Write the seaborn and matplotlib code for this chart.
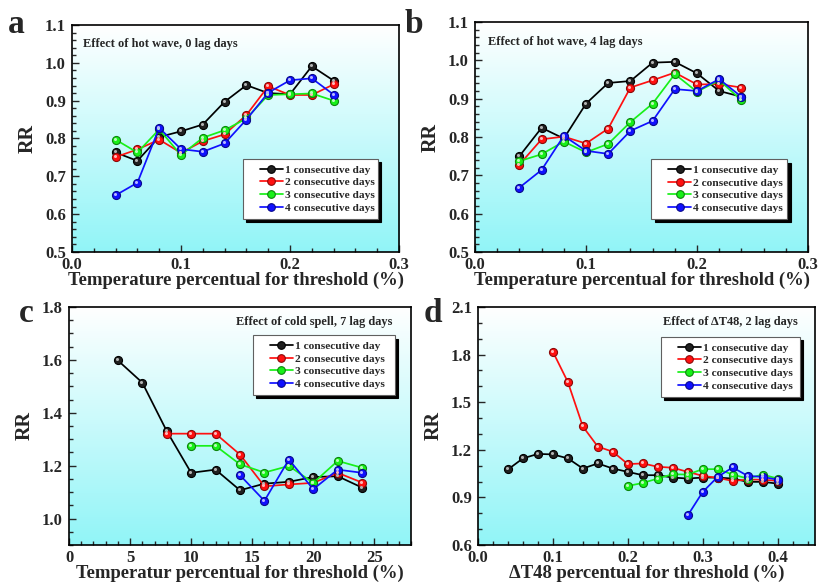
import matplotlib
matplotlib.use("Agg")
import numpy as np
import pandas as pd
import matplotlib.pyplot as plt
import matplotlib.colors as mcolors
import seaborn as sns
from matplotlib.lines import Line2D
from matplotlib.legend_handler import HandlerLine2D
from matplotlib.ticker import MultipleLocator
from matplotlib.transforms import offset_copy

sns.set_style("ticks")
plt.rcParams["font.family"] = ["Liberation Serif", "DejaVu Serif"]
plt.rcParams["font.weight"] = "bold"

series_labels = ["1 consecutive day", "2 consecutive days",
                 "3 consecutive days", "4 consecutive days"]
series_colors = ["#000000", "#ff1010", "#18f018", "#1010ff"]

# ---- (a) hot wave, lag 0 ----
a_x = [0.04, 0.06, 0.08, 0.10, 0.12, 0.14, 0.16, 0.18, 0.20, 0.22, 0.24]
a_d1 = [0.763, 0.741, 0.804, 0.819, 0.837, 0.897, 0.941, 0.920, 0.917, 0.991, 0.953]
a_d2 = [0.751, 0.771, 0.797, 0.762, 0.793, 0.811, 0.862, 0.938, 0.915, 0.915, 0.943]
a_d3 = [0.797, 0.763, 0.824, 0.756, 0.802, 0.822, 0.853, 0.915, 0.917, 0.919, 0.900]
a_d4 = [0.650, 0.683, 0.828, 0.772, 0.765, 0.787, 0.850, 0.921, 0.954, 0.959, 0.916]

# ---- (b) hot wave, lag 4 ----
b_x = [0.04, 0.06, 0.08, 0.10, 0.12, 0.14, 0.16, 0.18, 0.20, 0.22, 0.24]
b_d1 = [0.750, 0.824, 0.796, 0.887, 0.941, 0.946, 0.994, 0.996, 0.966, 0.920, 0.905]
b_d2 = [0.728, 0.794, 0.801, 0.783, 0.822, 0.929, 0.948, 0.968, 0.937, 0.938, 0.929]
b_d3 = [0.737, 0.755, 0.788, 0.760, 0.782, 0.839, 0.887, 0.964, 0.918, 0.948, 0.896]
b_d4 = [0.668, 0.714, 0.803, 0.764, 0.756, 0.816, 0.842, 0.925, 0.920, 0.951, 0.905]

# ---- (c) cold spell, lag 7 ----
c_x1 = [4, 6, 8, 10, 12, 14, 16, 18, 20, 22, 24]
c_d1 = [1.598, 1.514, 1.331, 1.173, 1.185, 1.107, 1.132, 1.139, 1.157, 1.160, 1.117]
c_x2 = [8, 10, 12, 14, 16, 18, 20, 22, 24]
c_d2 = [1.321, 1.321, 1.321, 1.242, 1.122, 1.129, 1.135, 1.173, 1.136]
c_x3 = [10, 12, 14, 16, 18, 20, 22, 24]
c_d3 = [1.275, 1.275, 1.205, 1.174, 1.199, 1.135, 1.218, 1.192]
c_x4 = [14, 16, 18, 20, 22, 24]
c_d4 = [1.164, 1.067, 1.223, 1.111, 1.185, 1.173]

# ---- (d) delta T48, lag 2 ----
d_x1 = [0.04, 0.06, 0.08, 0.10, 0.12, 0.14, 0.16, 0.18, 0.20, 0.22,
        0.24, 0.26, 0.28, 0.30, 0.32, 0.34, 0.36, 0.38, 0.40]
d_d1 = [1.076, 1.146, 1.174, 1.171, 1.146, 1.082, 1.114, 1.082, 1.061, 1.040,
        1.040, 1.025, 1.019, 1.025, 1.025, 1.019, 0.998, 0.998, 0.987]
d_x2 = [0.10, 0.12, 0.14, 0.16, 0.18, 0.20, 0.22, 0.24, 0.26, 0.28,
        0.30, 0.32, 0.34, 0.36, 0.38, 0.40]
d_d2 = [1.818, 1.627, 1.347, 1.220, 1.188, 1.110, 1.114, 1.093, 1.087, 1.061,
        1.036, 1.023, 1.004, 1.012, 1.012, 1.004]
d_x3 = [0.20, 0.22, 0.24, 0.26, 0.28, 0.30, 0.32, 0.34, 0.36, 0.38, 0.40]
d_d3 = [0.972, 0.991, 1.019, 1.046, 1.044, 1.078, 1.078, 1.044, 1.019, 1.044, 1.019]
d_x4 = [0.28, 0.30, 0.32, 0.34, 0.36, 0.38, 0.40]
d_d4 = [0.786, 0.934, 1.029, 1.089, 1.036, 1.029, 1.012]

xlabel_temp = "Temperature percentual for threshold (%)"
xlabel_temp_c = "Temperatur percentual for threshold (%)"
xlabel_dt = "ΔT48 percentual for threshold (%)"

W, H = 819, 583
fig = plt.figure(figsize=(W / 100, H / 100), dpi=100)
fig.patch.set_facecolor("white")


def add_axes_px(left, top, right, bottom):
    return fig.add_axes([left / W, 1 - bottom / H, (right - left) / W, (bottom - top) / H])


def shade(color, f):
    rgb = np.array(mcolors.to_rgb(color))
    return tuple(rgb * f)


def tint(color, f):
    rgb = np.array(mcolors.to_rgb(color))
    return tuple(rgb + (1 - rgb) * f)


def face(c):
    return "#202020" if c == "#000000" else c


def edge(c):
    return "#000000" if c == "#000000" else shade(c, 0.55)


# vertical wash: cyan at the bottom fading to white at the top
grad = np.linspace(1, 0, 256)[:, None]
bg_cmap = mcolors.LinearSegmentedColormap.from_list(
    "bg", [(1, 1, 1), (0.57, 0.96, 0.97)])


def draw_panel(ax, xs_list, ys_list, xlim, ylim, xmaj, xmin, ymaj, ymin,
               xlabel, note, note_xy, note_ha, leg_box, xfmt):
    ax.imshow(grad, extent=[0, 1, 0, 1], origin="lower", transform=ax.transAxes,
              cmap=bg_cmap, vmin=0, vmax=1, aspect="auto", zorder=0,
              interpolation="bilinear")
    frames = []
    for lab, xs, ys in zip(series_labels, xs_list, ys_list):
        frames.append(pd.DataFrame({"x": xs, "RR": ys, "series": lab}))
    df = pd.concat(frames, ignore_index=True)
    sns.lineplot(data=df, x="x", y="RR", hue="series", hue_order=series_labels,
                 palette=series_colors, marker="o", markersize=5.8, linewidth=1.25,
                 markeredgecolor=None, markeredgewidth=0.8, errorbar=None,
                 legend=False, ax=ax, zorder=3)
    hl = offset_copy(ax.transData, fig=fig, x=-1.0, y=1.0, units="dots")
    for line, col in zip(list(ax.lines), series_colors):
        line.set_markeredgecolor(edge(col))
        line.set_markerfacecolor(face(col))
        xd, yd = line.get_xdata(), line.get_ydata()
        ax.plot(xd, yd, linestyle="none", marker="o", markersize=2.2,
                markeredgewidth=0, markerfacecolor=tint(col, 0.7),
                transform=hl, zorder=4)
    ax.set_xlim(*xlim)
    ax.set_ylim(*ylim)
    ax.xaxis.set_major_locator(MultipleLocator(xmaj))
    ax.xaxis.set_minor_locator(MultipleLocator(xmin))
    ax.yaxis.set_major_locator(MultipleLocator(ymaj))
    ax.yaxis.set_minor_locator(MultipleLocator(ymin))
    ax.xaxis.set_major_formatter(xfmt)
    ax.yaxis.set_major_formatter(lambda v, p: f"{v:.1f}")
    ax.tick_params(which="both", direction="in", top=False, right=False,
                   width=1.0, labelsize=12)
    ax.tick_params(axis="x", pad=3.5)
    ax.tick_params(axis="y", pad=4.5)
    ax.tick_params(which="major", length=5)
    ax.tick_params(which="minor", length=3)
    for lbl in ax.get_xticklabels() + ax.get_yticklabels():
        lbl.set_fontweight("bold")
    for sp in ax.spines.values():
        sp.set_linewidth(1.2)
        sp.set_color("black")
        sp.set_zorder(5)
    ax.set_xlabel(xlabel, fontsize=13.4, fontweight="bold", labelpad=-1)
    ax.set_ylabel("RR", fontsize=14.5, fontweight="bold", labelpad=5)
    ax.text(note_xy[0], note_xy[1], note, transform=ax.transAxes, ha=note_ha,
            va="center", fontsize=8.9, fontweight="bold", zorder=6)
    handles = [Line2D([0], [0], color=c, lw=1.25, marker="o", markersize=5.5,
                      markerfacecolor=face(c), markeredgecolor=edge(c),
                      markeredgewidth=0.8)
               for c in series_colors]
    x0, ytop, w = leg_box
    leg = ax.legend(handles, series_labels, loc="upper left",
                    bbox_to_anchor=(x0, ytop - 0.3, w, 0.3), mode="expand",
                    borderaxespad=0, frameon=True, fancybox=False,
                    shadow={"ox": 2.5, "oy": -2.5, "color": "black", "alpha": 1},
                    edgecolor="#606060", framealpha=1, facecolor="white",
                    prop={"size": 8.2, "weight": "bold"}, handlelength=3.0,
                    handler_map={Line2D: HandlerLine2D(xpad=1.0)},
                    handletextpad=0.15, labelspacing=0.25, borderpad=0.5)
    leg.get_frame().set_linewidth(0.8)
    leg.set_zorder(7)


fmt_1 = lambda v, p: f"{v:.1f}"
fmt_0 = lambda v, p: f"{v:.0f}"

ax_a = add_axes_px(72, 25, 399, 252)
draw_panel(ax_a, [a_x] * 4, [a_d1, a_d2, a_d3, a_d4], (0, 0.3), (0.5, 1.1),
           0.1, 0.02, 0.1, 0.02, xlabel_temp, "Effect of hot wave, 0 lag days",
           (0.034, 0.916), "left", (0.523, 0.41, 135 / 327), fmt_1)

ax_b = add_axes_px(475, 22, 808, 252)
draw_panel(ax_b, [b_x] * 4, [b_d1, b_d2, b_d3, b_d4], (0, 0.3), (0.5, 1.1),
           0.1, 0.02, 0.1, 0.02, xlabel_temp, "Effect of hot wave, 4 lag days",
           (0.039, 0.913), "left", (0.529, 0.404, 136 / 333), fmt_1)

ax_c = add_axes_px(69, 307, 411, 545)
draw_panel(ax_c, [c_x1, c_x2, c_x3, c_x4], [c_d1, c_d2, c_d3, c_d4], (0, 28), (0.9, 1.8),
           5, 1, 0.2, 0.05, xlabel_temp_c, "Effect of cold spell, 7 lag days",
           (0.947, 0.937), "right", (0.538, 0.882, 142 / 342), fmt_0)

ax_d = add_axes_px(478, 307, 815, 545)
draw_panel(ax_d, [d_x1, d_x2, d_x3, d_x4], [d_d1, d_d2, d_d3, d_d4], (0, 0.45), (0.6, 2.1),
           0.1, 0.02, 0.3, 0.1, xlabel_dt, "Effect of ΔT48, 2 lag days",
           (0.95, 0.937), "right", (0.543, 0.874, 139 / 337), fmt_1)

for letter, x, y in [("a", 8, 33), ("b", 405, 33), ("c", 19, 322), ("d", 424, 322)]:
    fig.text(x / W, 1 - y / H, letter, fontsize=24, fontweight="bold",
             ha="left", va="baseline")

fig.savefig("out.png", dpi=100, facecolor="white")
